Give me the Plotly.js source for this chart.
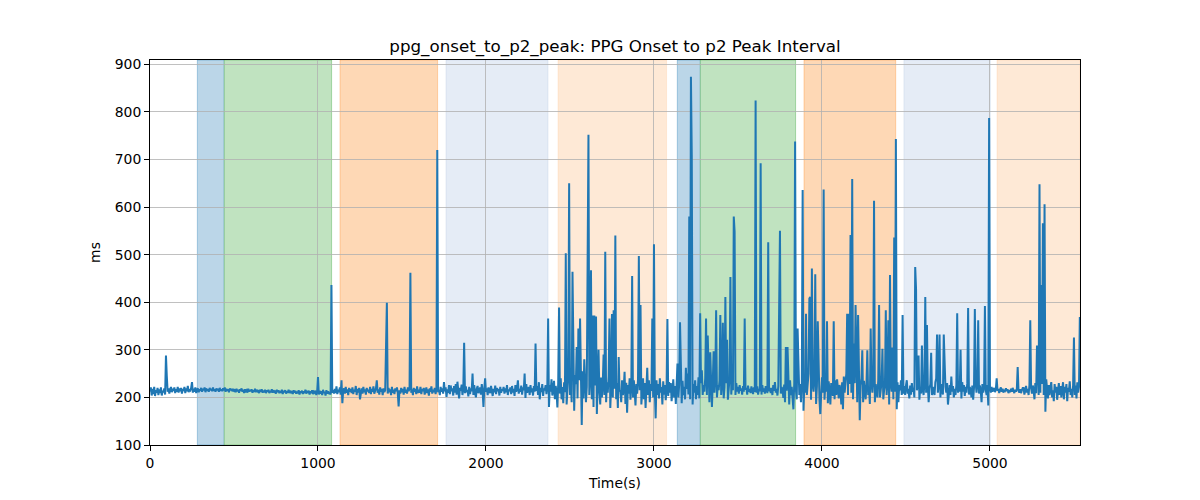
<!DOCTYPE html>
<html>
<head>
<meta charset="utf-8">
<script src="https://cdn.plot.ly/plotly-3.0.1.min.js"></script>
<style>
  html, body { margin: 0; padding: 0; background: #fff; }
  #chart { width: 1200px; height: 500px; }
</style>
</head>
<body>
<div id="chart"></div>
<script>
// Sampled every 5 s starting at t = 0 s
const sampleStart = 0;
const sampleStep = 5;

// PPG onset to p2 peak interval (ms), one row per 100 s
const interval_ms = [
  212,221,204,218,207,222,203,215,210,220,205,217,209,221,204,214,211,219,206,288,
  245,212,219,208,216,222,211,218,214,221,209,217,212,222,210,219,213,220,208,218,
  214,222,209,219,213,224,211,217,215,220,232,210,218,212,221,209,216,219,211,217,
  214,220,212,218,215,221,211,219,214,217,212,220,215,218,213,221,214,217,212,219,
  215,218,212,220,214,217,213,219,215,221,212,218,214,217,211,219,215,218,213,216,
  214,217,211,218,213,216,210,217,214,219,212,216,209,217,213,215,210,218,212,216,
  213,217,210,215,212,218,211,216,213,215,209,216,212,217,210,214,211,216,209,215,
  212,216,209,214,211,217,210,215,212,214,208,216,211,215,209,213,210,216,207,214,
  211,215,208,213,210,216,209,214,211,213,207,215,210,214,208,212,209,215,206,213,
  210,214,207,213,209,216,208,212,211,214,206,213,209,215,207,212,210,214,205,212,
  243,206,214,208,213,205,216,209,212,204,215,208,213,207,211,206,436,210,215,208,
  218,209,223,207,216,211,221,206,236,188,214,219,208,222,210,217,205,220,212,218,
  209,221,207,216,212,224,205,218,210,220,196,214,219,208,222,211,217,206,220,213,
  216,209,222,207,218,212,223,208,215,219,236,210,217,206,221,212,218,205,219,211,
  215,293,399,208,220,211,217,205,222,210,216,207,219,213,221,209,181,215,208,220,
  211,218,206,222,210,216,208,221,213,219,462,210,217,205,220,212,218,207,223,209,
  216,210,222,207,218,213,220,206,215,221,209,217,204,219,212,223,208,216,211,220,
  207,218,720,211,216,205,222,212,219,208,232,213,221,201,217,210,226,207,225,213,
  219,204,224,210,228,206,233,212,198,220,214,227,205,218,315,209,223,211,216,202,
  222,207,219,213,250,205,226,210,200,218,224,209,216,221,206,228,212,180,219,240,
  212,219,205,221,214,209,224,216,203,218,211,225,207,220,213,218,204,222,210,217,
  214,222,208,219,211,226,205,217,213,221,207,224,210,218,203,226,212,219,236,208,
  218,212,225,206,221,215,250,199,228,210,218,222,205,226,211,219,204,224,212,313,
  214,224,205,232,196,220,211,228,203,219,215,226,207,221,366,180,226,212,238,204,
  218,235,196,224,210,179,230,389,208,240,196,222,188,232,211,503,185,226,245,650,
  205,232,190,464,215,172,247,228,306,198,345,236,366,210,142,255,198,280,215,190,
  222,545,752,205,238,467,196,372,180,372,225,370,165,238,300,210,185,242,200,228,
  290,205,506,190,232,210,245,366,178,225,375,200,383,218,540,196,230,178,285,215,
  212,190,236,205,220,254,186,231,168,226,208,240,195,222,455,200,236,212,183,228,
  208,238,497,215,394,185,222,240,196,230,178,224,262,205,236,190,228,214,366,200,
  522,215,156,236,205,228,198,240,210,222,185,234,206,226,194,218,365,203,232,210,
  230,192,215,238,200,224,186,231,271,200,226,358,212,188,235,205,222,196,262,218,
  250,206,580,196,874,709,185,228,210,236,196,224,205,242,198,377,230,257,205,226,
  212,240,366,205,330,228,190,295,215,180,232,297,210,238,383,200,226,215,235,373,
  205,228,357,198,222,411,230,321,195,226,240,453,206,232,215,580,548,205,230,212,
  222,208,226,214,219,206,224,212,366,216,220,206,225,212,218,209,223,214,207,221,
  212,824,210,223,206,218,213,692,206,226,212,219,208,224,215,209,526,213,220,209,
  220,205,226,214,232,210,218,204,224,390,550,208,222,216,199,227,190,306,214,306,
  212,185,236,205,222,196,175,230,738,215,196,345,240,205,228,190,232,636,172,226,
  210,376,205,232,250,408,411,195,471,226,212,238,459,186,224,360,230,195,165,228,
  242,210,637,195,226,212,360,188,234,214,185,230,220,203,360,196,236,205,238,212,
  198,226,216,185,232,175,244,210,226,250,376,205,376,228,541,210,659,196,313,230,
  394,215,190,373,226,152,225,240,299,190,235,218,196,228,299,205,222,186,345,230,
  210,236,613,190,228,215,200,236,394,200,218,232,302,196,215,226,383,205,232,362,
  185,457,228,212,305,196,536,212,743,175,232,190,226,215,236,205,373,208,224,205,
  225,236,208,218,198,225,206,230,212,220,200,474,429,215,226,288,195,222,208,309,
  218,205,230,411,210,352,226,190,218,228,294,205,222,212,205,232,240,332,210,226,
  332,200,228,215,206,332,274,222,210,230,185,218,226,205,244,212,224,200,218,205,
  226,377,210,224,212,300,198,232,212,226,203,222,210,230,388,206,222,214,200,225,
  195,220,386,230,210,225,362,208,225,214,190,228,210,222,392,215,205,226,183,787,
  218,210,222,212,215,220,211,217,240,214,218,209,216,221,212,218,210,216,214,219,
  213,217,209,215,211,218,212,220,214,209,216,212,218,264,214,210,217,209,215,220,
  220,206,215,224,210,218,205,226,362,220,208,225,214,196,230,209,309,222,205,648,
  210,436,228,566,205,606,170,238,212,198,226,205,220,232,200,215,192,228,210,222,
  195,218,230,205,224,200,215,232,196,222,210,228,192,220,212,234,205,218,200,226,
  326,205,225,198,232,210,222,369
];

// Shaded condition segments (seconds)
const segmentStart = [282, 442, 1131, 1762, 2429, 3139, 3276, 3893, 4488, 5042];
const segmentEnd   = [442, 1081, 1712, 2369, 3075, 3276, 3843, 4439, 5002, 5536];
const segmentKind  = ['A', 'B', 'C', 'D', 'E', 'A', 'B', 'C', 'D', 'E'];

const xTicks = [0, 1000, 2000, 3000, 4000, 5000];
const yTicks = [100, 200, 300, 400, 500, 600, 700, 800, 900];

const titleText = 'ppg_onset_to_p2_peak: PPG Onset to p2 Peak Interval';
const xLabel = 'Time(s)';
const yLabel = 'ms';

// styles
const kindFill = {
  A: '#bbd6e8',
  B: '#c0e3c0',
  C: '#fed8b5',
  D: '#e5ecf6',
  E: '#fee9d6'
};
const kindEdge = {
  A: 'rgba(31,119,180,0.35)',
  B: 'rgba(44,160,44,0.35)',
  C: 'rgba(255,127,14,0.3)',
  D: 'rgba(176,196,222,0.3)',
  E: 'rgba(255,190,140,0.25)'
};

const shapes = segmentStart.map((s, i) => ({
  type: 'rect', xref: 'x', yref: 'paper',
  x0: s, x1: segmentEnd[i], y0: 0, y1: 1,
  fillcolor: kindFill[segmentKind[i]],
  line: { color: kindEdge[segmentKind[i]], width: 1 },
  layer: 'between'
}));

const font = 'DejaVu Sans, sans-serif';

const trace = {
  type: 'scatter', mode: 'lines',
  x0: sampleStart, dx: sampleStep,
  y: interval_ms,
  line: { color: '#1f77b4', width: 2 },
  hoverinfo: 'x+y'
};

const layout = {
  width: 1200, height: 500,
  margin: { l: 150, r: 120, t: 60, b: 55 },
  paper_bgcolor: '#ffffff', plot_bgcolor: '#ffffff',
  showlegend: false,
  title: {
    text: titleText,
    font: { family: font, size: 16.7, color: '#000' },
    x: 0.5125, xanchor: 'center', y: 0.908, yanchor: 'middle'
  },
  xaxis: {
    range: [0, 5536],
    tickvals: xTicks, ticktext: xTicks.map(String),
    ticks: 'outside', ticklen: 5, tickwidth: 1, tickcolor: '#000',
    showgrid: true, gridcolor: '#b0b0b0', gridwidth: 0.8,
    showline: true, linecolor: '#000', linewidth: 1, mirror: true,
    zeroline: false,
    tickfont: { family: font, size: 13.9, color: '#000' },
    title: { text: xLabel, font: { family: font, size: 13.9, color: '#000' }, standoff: 8 }
  },
  yaxis: {
    range: [100, 909],
    tickvals: yTicks, ticktext: yTicks.map(String),
    ticks: 'outside', ticklen: 5, tickwidth: 1, tickcolor: '#000',
    showgrid: true, gridcolor: '#b0b0b0', gridwidth: 0.8,
    showline: true, linecolor: '#000', linewidth: 1, mirror: true,
    zeroline: false,
    tickfont: { family: font, size: 13.9, color: '#000' },
    title: { text: yLabel, font: { family: font, size: 13.9, color: '#000' }, standoff: 10 }
  },
  shapes: shapes
};

Plotly.newPlot('chart', [trace], layout, { displayModeBar: false, staticPlot: true });
</script>
</body>
</html>
